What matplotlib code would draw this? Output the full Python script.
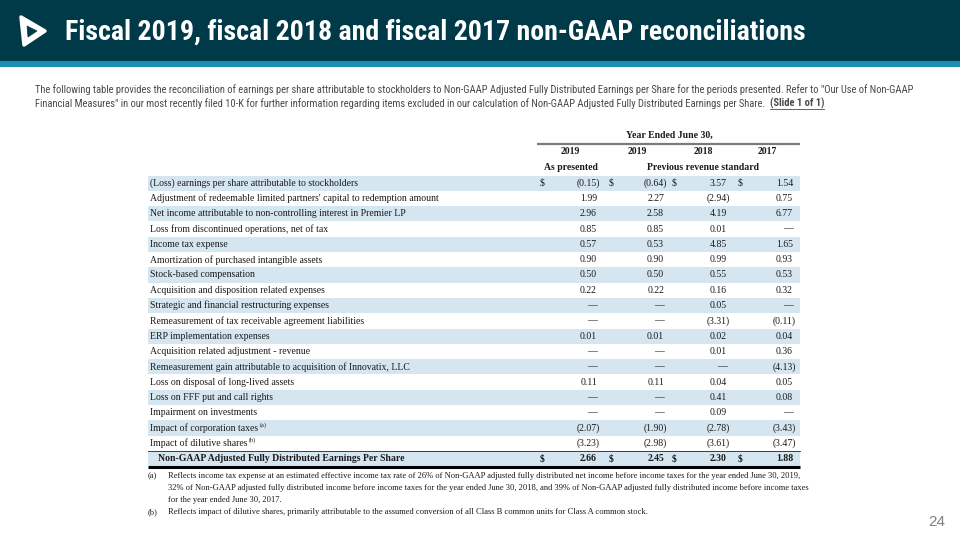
import matplotlib
matplotlib.use("Agg")
import matplotlib.pyplot as plt
from matplotlib import font_manager
from matplotlib.patches import Rectangle, Polygon

# ---- data ----
row_labels = [
    "(Loss) earnings per share attributable to stockholders",
    "Adjustment of redeemable limited partners' capital to redemption amount",
    "Net income attributable to non-controlling interest in Premier LP",
    "Loss from discontinued operations, net of tax",
    "Income tax expense",
    "Amortization of purchased intangible assets",
    "Stock-based compensation",
    "Acquisition and disposition related expenses",
    "Strategic and financial restructuring expenses",
    "Remeasurement of tax receivable agreement liabilities",
    "ERP implementation expenses",
    "Acquisition related adjustment - revenue",
    "Remeasurement gain attributable to acquisition of Innovatix, LLC",
    "Loss on disposal of long-lived assets",
    "Loss on FFF put and call rights",
    "Impairment on investments",
    "Impact of corporation taxes",
    "Impact of dilutive shares",
]
row_notes = {16: "(a)", 17: "(b)"}

fy2019_as_presented = [-0.15, 1.99, 2.96, 0.85, 0.57, 0.90, 0.50, 0.22, None, None,
                       0.01, None, None, 0.11, None, None, -2.07, -3.23]
fy2019_prev_std = [-0.64, 2.27, 2.58, 0.85, 0.53, 0.90, 0.50, 0.22, None, None,
                   0.01, None, None, 0.11, None, None, -1.90, -2.98]
fy2018_prev_std = [3.57, -2.94, 4.19, 0.01, 4.85, 0.99, 0.55, 0.16, 0.05, -3.31,
                   0.02, 0.01, None, 0.04, 0.41, 0.09, -2.78, -3.61]
fy2017_prev_std = [1.54, 0.75, 6.77, None, 1.65, 0.93, 0.53, 0.32, None, -0.11,
                   0.04, 0.36, -4.13, 0.05, 0.08, None, -3.43, -3.47]

total_label = "Non-GAAP Adjusted Fully Distributed Earnings Per Share"
totals = [2.66, 2.45, 2.30, 1.88]

col_years = ["2019", "2019", "2018", "2017"]
title = "Fiscal 2019, fiscal 2018 and fiscal 2017 non-GAAP reconciliations"
intro_1 = ("The following table provides the reconciliation of earnings per share attributable to stockholders "
           "to Non-GAAP Adjusted Fully Distributed Earnings per Share for the periods presented. Refer to \"Our Use of Non-GAAP")
intro_2 = ("Financial Measures\" in our most recently filed 10-K for further information regarding items excluded "
           "in our calculation of Non-GAAP Adjusted Fully Distributed Earnings per Share.  ")
slide_note = "(Slide 1 of 1)"
footnote_a = [
    "Reflects income tax expense at an estimated effective income tax rate of 26% of Non-GAAP adjusted fully distributed net income before income taxes for the year ended June 30, 2019,",
    "32% of Non-GAAP adjusted fully distributed income before income taxes for the year ended June 30, 2018, and 39% of Non-GAAP adjusted fully distributed income before income taxes",
    "for the year ended June 30, 2017.",
]
footnote_b = "Reflects impact of dilutive shares, primarily attributable to the assumed conversion of all Class B common units for Class A common stock."
page_no = "24"

# ---- styling ----
DARK = "#003a48"
STRIPE = "#1a8fb2"
SHADE = "#d6e6f0"
INK = "#1a1a1a"
SERIF = ["Liberation Serif", "DejaVu Serif"]
installed = {f.name for f in font_manager.fontManager.ttflist}
narrow = [n for n in ["Liberation Sans Narrow", "Roboto Condensed", "DejaVu Sans Condensed"]
          if n in installed]
SANS = narrow + ["Liberation Sans", "DejaVu Sans"]


def fmt(v):
    if v is None:
        return "\u2014"
    if v < 0:
        return f"({abs(v):.2f})"
    return f"{v:.2f}"


fig = plt.figure(figsize=(9.6, 5.4), dpi=100)
ax = fig.add_axes([0, 0, 1, 1])
ax.set_xlim(0, 960)
ax.set_ylim(540, 0)
ax.axis("off")
fig.canvas.draw()
r = fig.canvas.get_renderer()
px = 960 / fig.bbox.width


def fit(t, width):
    # shrink/grow a text so it spans the given width in pixels
    w = t.get_window_extent(r).width * px
    t.set_fontsize(t.get_fontsize() * width / w)
    return t


def x_end(t):
    return t.get_window_extent(r).x1 * px


# header band
ax.add_patch(Rectangle((0, 0), 960, 61, color=DARK, lw=0))
ax.add_patch(Rectangle((0, 61), 960, 6, color=STRIPE, lw=0))

# logo (rough)
ax.add_patch(Polygon([(21, 17), (45, 31), (24, 45)], closed=True, fc="white",
                     ec="white", lw=2.5, joinstyle="round"))
ax.add_patch(Polygon([(27, 26), (37, 31), (28, 37)], closed=True, fc=DARK, ec=DARK, lw=0.5))

tt = ax.text(65, 32, title, color="white", fontsize=21, fontweight="bold",
             family=SANS, va="center", ha="left")
fit(tt, 740)

# intro paragraph
t1 = ax.text(35, 90, intro_1, color="#4a4a4a", fontsize=7.1, family=SANS, va="center")
fit(t1, 890)
t2 = ax.text(35, 103.5, intro_2, color="#4a4a4a", fontsize=t1.get_fontsize(), family=SANS,
             va="center")
xn = x_end(t2)
tn = ax.text(xn, 103.5, slide_note, color="#4a4a4a", fontsize=t1.get_fontsize(), family=SANS,
             fontweight="bold", va="center")
ax.plot([xn, x_end(tn)], [108.5, 108.5], color="#4a4a4a", lw=0.6)

# table geometry
left, right = 148, 800
y0, rh = 175.5, 15.3
num_edges = [597, 664, 727, 793]
dollar_x = [540, 609, 672, 738]
paren = 3
fs = 7

# column headers
ax.text(669, 135, "Year Ended June 30,", fontsize=fs, family=SERIF, fontweight="bold",
        ha="center", va="center", color=INK)
ax.plot([537, right], [144, 144], color="#7a7a7a", lw=1.6, solid_capstyle="butt")
for cx, yr in zip([570, 637, 703, 767], col_years):
    ax.text(cx, 152, yr, fontsize=fs, family=SERIF, fontweight="bold", ha="center",
            va="center", color=INK)
ax.text(571, 167, "As presented", fontsize=fs, family=SERIF, fontweight="bold",
        ha="center", va="center", color=INK)
ax.text(703, 167, "Previous revenue standard", fontsize=fs, family=SERIF, fontweight="bold",
        ha="center", va="center", color=INK)

columns = [fy2019_as_presented, fy2019_prev_std, fy2018_prev_std, fy2017_prev_std]
for i, lab in enumerate(row_labels):
    top = y0 + i * rh
    yc = top + rh / 2
    if i % 2 == 0:
        ax.add_patch(Rectangle((left, top), right - left, rh, color=SHADE, lw=0))
    t = ax.text(150, yc, lab, fontsize=fs, family=SERIF, va="center", color=INK)
    if i in row_notes:
        ax.text(x_end(t) + 1.5, yc - 3, row_notes[i], fontsize=4.5,
                family=SERIF, va="center", color=INK)
    for c, col in enumerate(columns):
        s = fmt(col[i])
        xe = num_edges[c] + (paren if s.endswith(")") else 0)
        ax.text(xe, yc, s, fontsize=fs, family=SERIF, ha="right", va="center", color=INK)
    if i == 0:
        for dx in dollar_x:
            ax.text(dx, yc, "$", fontsize=fs, family=SERIF, va="center", color=INK)

# total row
top = y0 + len(row_labels) * rh
yc = top + rh / 2
ax.add_patch(Rectangle((left, top), right - left, rh, color=SHADE, lw=0))
ax.plot([left, right], [top, top], color="#222222", lw=0.6)
ax.plot([left, right], [top + rh + 1, top + rh + 1], color="black", lw=2.2, solid_capstyle="butt")
ax.text(158, yc, total_label, fontsize=fs, family=SERIF, fontweight="bold", va="center", color=INK)
for c, v in enumerate(totals):
    ax.text(num_edges[c], yc, fmt(v), fontsize=fs, family=SERIF, fontweight="bold",
            ha="right", va="center", color=INK)
    ax.text(dollar_x[c], yc, "$", fontsize=fs, family=SERIF, fontweight="bold",
            va="center", color=INK)

# footnotes - the widest line is fitted to the table edge
fy = [476.5, 488, 499.5]
f1 = ax.text(168, fy[1], footnote_a[1], fontsize=5.6, family=SERIF, va="center", color=INK)
fit(f1, 632)
ffs = f1.get_fontsize()
for yy, line in [(fy[0], footnote_a[0]), (fy[2], footnote_a[2])]:
    ax.text(168, yy, line, fontsize=ffs, family=SERIF, va="center", color=INK)
ax.text(148, fy[0], "(a)", fontsize=ffs, family=SERIF, va="center", color=INK)
ax.text(148, 512, "(b)", fontsize=ffs, family=SERIF, va="center", color=INK)
ax.text(168, 512, footnote_b, fontsize=ffs, family=SERIF, va="center", color=INK)

ax.text(945, 522, page_no, fontsize=11, color="#7f7f7f", ha="right", va="center",
        family=["Liberation Sans", "DejaVu Sans"])

fig.savefig("out.png", dpi=100)
